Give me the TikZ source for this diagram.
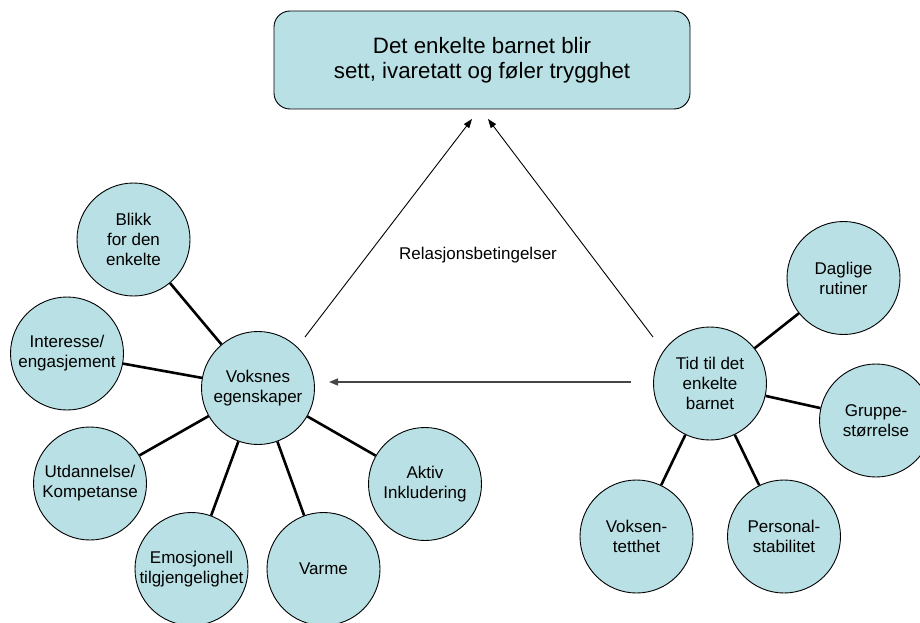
\documentclass[tikz,border=0pt]{standalone}
\usepackage{fontspec}
\setmainfont{Liberation Sans}
\usetikzlibrary{arrows.meta}
\definecolor{cfill}{RGB}{185,224,228}
\definecolor{darkline}{RGB}{70,70,70}
\begin{document}
\begin{tikzpicture}[x=1pt,y=-1pt,
  bub/.style={circle,draw=black,line width=0.9pt,fill=cfill,minimum size=113pt,inner sep=0pt,align=center,font=\fontsize{17}{20}\selectfont},
  spoke/.style={line width=2.6pt},
  thinarrow/.style={line width=0.9pt,-{Triangle[length=9pt,width=6.5pt]}},
  grayarrow/.style={line width=1.5pt,draw=darkline,-{Triangle[length=9pt,width=7pt]}}]
\useasboundingbox (0,0) rectangle (920,623);
\node[draw=black,line width=0.9pt,rounded corners=16pt,fill=cfill,minimum width=416pt,minimum height=98pt,align=center,font=\fontsize{22.3}{24.5}\selectfont] (top) at (482,60) {Det enkelte barnet blir\\sett, ivaretatt og føler trygghet};
% left cluster
\node[bub] (vok) at (258,388) {Voksnes\\egenskaper};
\node[bub] (blikk) at (133.5,239.5) {Blikk\\for den\\enkelte};
\node[bub] (inter) at (67,353.5) {Interesse/\\engasjement};
\node[bub] (utd) at (90,483.5) {Utdannelse/\\Kompetanse};
\node[bub] (emo) at (191.5,569) {Emosjonell\\tilgjengelighet};
\node[bub] (varme) at (323.5,569) {Varme};
\node[bub] (aktiv) at (425,484) {Aktiv\\Inkludering};
% right cluster
\node[bub] (tid) at (710,383.5) {Tid til det\\enkelte\\barnet};
\node[bub] (dag) at (843.5,278) {Daglige\\rutiner};
\node[bub] (grp) at (876,420.5) {Gruppe-\\størrelse};
\node[bub] (vt) at (636.5,536.5) {Voksen-\\tetthet};
\node[bub] (pers) at (784,536.5) {Personal-\\stabilitet};
% spokes
\foreach \n in {blikk,inter,utd,emo,varme,aktiv} \draw[spoke] (vok) -- (\n);
\foreach \n in {dag,grp,vt,pers} \draw[spoke] (tid) -- (\n);
% arrows
\coordinate (ls) at (305,337);
\coordinate (le) at (472,119);
\coordinate (rs) at (653,337);
\coordinate (re) at (488,119);
\coordinate (hs) at (631,382);
\coordinate (he) at (329,382);
\draw[thinarrow] (ls) -- (le);
\draw[thinarrow] (rs) -- (re);
\draw[grayarrow] (hs) -- (he);
\node[font=\fontsize{17}{20}\selectfont] (rel) at (478,255) {Relasjonsbetingelser};
\end{tikzpicture}
\end{document}
